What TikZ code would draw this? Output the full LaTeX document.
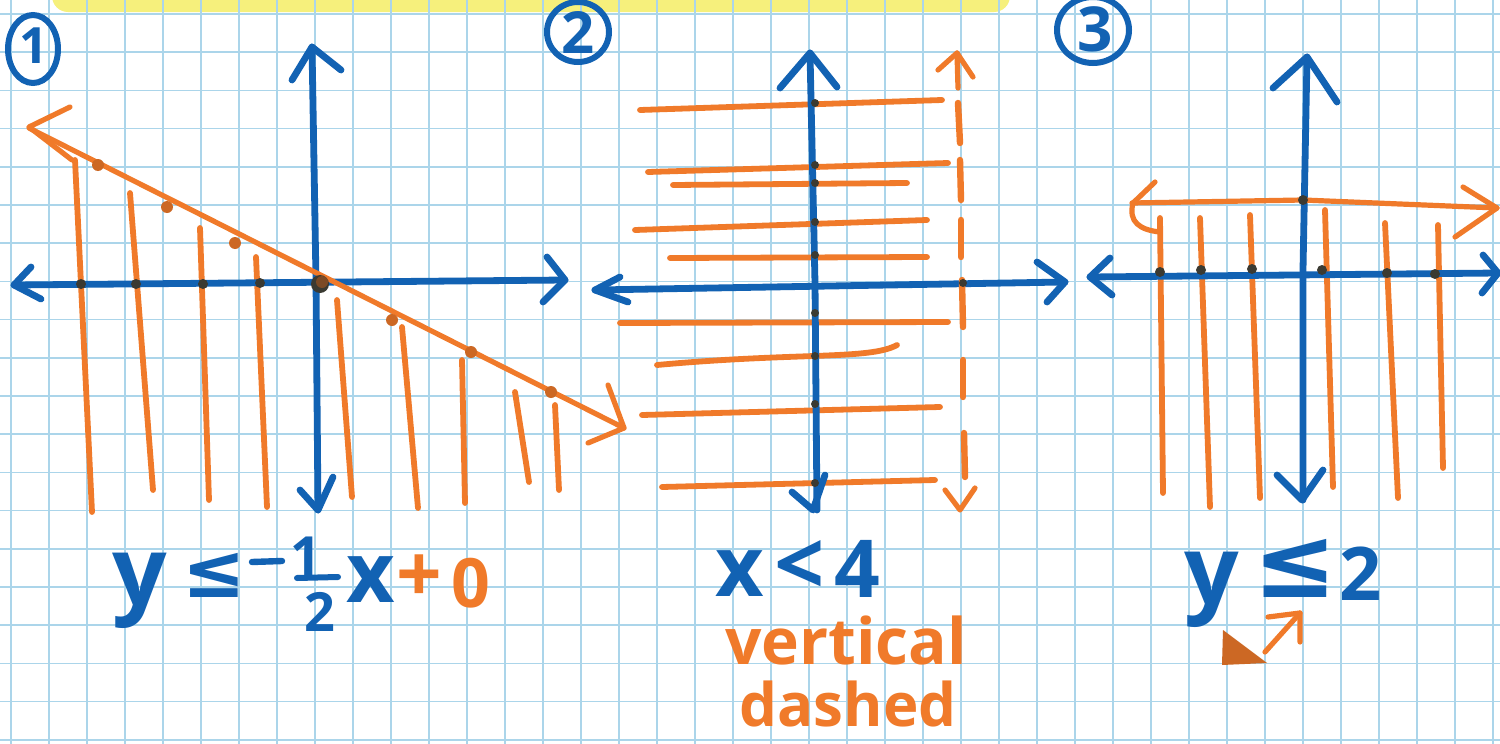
\documentclass[tikz,border=0pt]{standalone}
\usepackage{fontspec}
\setmainfont{Open Sans}
\newfontfamily\dejavu{DejaVu Sans}
\definecolor{inkblue}{HTML}{1262B3}
\definecolor{inkorange}{HTML}{F07A2A}
\definecolor{gridblue}{HTML}{ABD5EA}
\definecolor{dotdark}{HTML}{3B3A32}
\definecolor{hilite}{HTML}{F6F07C}
\tikzset{
  ax/.style={draw=inkblue, line width=3.4pt, line cap=round, line join=round},
  hatch/.style={draw=inkorange, line width=2.9pt, line cap=round},
  bound/.style={draw=inkorange, line width=2.6pt, line cap=round, line join=round},
  gridln/.style={draw=gridblue, line width=0.8pt},
  xdot/.style={fill=dotdark, draw=none},
  odot/.style={fill=inkorange!85!black, draw=none},
  lbl/.style={inner sep=0pt, outer sep=0pt, text=inkblue},
  olbl/.style={inner sep=0pt, outer sep=0pt, text=inkorange},
  fs/.style={font=\bfseries\fontsize{#1}{#1}\selectfont},
  dfs/.style={font=\dejavu\bfseries\fontsize{#1}{#1}\selectfont},
  numring/.style={draw=inkblue, line width=3pt}
}
\begin{document}
\begin{tikzpicture}[x=0.5pt,y=-0.5pt]
\clip (0,0) rectangle (1500,744);
\fill[white] (0,0) rectangle (1500,744);
% highlighter band
\fill[hilite, rounded corners=8pt] (52,-20) rectangle (1010,12);
% grid
\foreach \i in {0,...,39} { \draw[gridln] ({11+38*\i},0) -- ({11+38*\i},744); }
\foreach \j in {0,...,19} { \draw[gridln] (0,{14+38.2*\j}) -- (1500,{14+38.2*\j}); }

% ---------- numbered rings ----------
\draw[numring] (33,49) ellipse [x radius=25, y radius=34];
\node[lbl, fs=25] (n1) at (34,46) {1};
\draw[numring] (578,32) ellipse [x radius=31, y radius=30];
\node[lbl, fs=29] (n2) at (578,33) {2};
\draw[numring] (1093,30) ellipse [x radius=36, y radius=33];
\node[lbl, fs=31] (n3) at (1095,29) {3};

% ---------- graph 1 ----------
\foreach \a/\b/\c/\d in {75/160/92/512, 130/193/153/490, 200/228/209/500, 256/257/267/507,
  337/300/352/497, 402/327/418/508, 462/360/465/503, 515/392/529/482, 555/405/559/490}
  { \draw[hatch] (\a,\b) -- (\c,\d); }
\draw[ax] (14,285) -- (565,280);
\draw[ax] (31,267) -- (14,285) -- (41,299);
\draw[ax] (547,257) -- (565,280) -- (543,302);
\draw[ax] (312,47) -- (316,280) -- (318,510);
\draw[ax] (292,80) -- (312,47) -- (341,70);
\draw[ax] (300,490) -- (318,510) -- (333,477);
\draw[bound] (29,128) -- (624,428);
\draw[bound] (70,107) -- (29,127) -- (72,160);
\draw[bound] (608,385) -- (624,428) -- (588,443);
\foreach \p in {(98,165),(167,207),(235,243),(392,320),(471,352),(551,392)} { \fill[odot] \p circle (6); }
\foreach \p in {(81,284),(136,284),(203,284),(260,283)} { \fill[xdot] \p circle (5); }
\fill[dotdark] (320,284) circle (9);
\fill[inkorange!70!black, opacity=0.6] (322,282) circle (6);

% ---------- graph 2 ----------
\foreach \a/\b/\c/\d in {640/110/942/100, 648/172/948/163, 673/185/907/183, 635/230/927/220,
  670/258/927/257, 620/323/948/322, 642/415/940/407, 662/487/935/480}
  { \draw[hatch] (\a,\b) -- (\c,\d); }
\draw[hatch] (657,365) .. controls (800,352) and (870,360) .. (897,345);
\draw[ax] (595,290) -- (1065,282);
\draw[ax] (620,277) -- (595,290) -- (628,302);
\draw[ax] (1037,262) -- (1065,282) -- (1047,302);
\draw[ax] (810,53) -- (815,283) -- (817,510);
\draw[ax] (780,88) -- (810,53) -- (837,87);
\draw[ax] (792,492) -- (813,510) -- (825,475);
\foreach \yy in {103,165,183,222,255,313,356,404,483} { \fill[xdot] (815,\yy) circle (4); }
\draw[hatch, line width=3.2pt] (958,103) -- (960,143);
\draw[hatch, line width=3.2pt] (960,160) -- (961,200);
\draw[hatch, line width=3.2pt] (961,220) -- (961,257);
\draw[hatch, line width=3.2pt] (962,280) -- (963,327);
\draw[hatch, line width=3.2pt] (963,360) -- (963,397);
\draw[hatch, line width=3.2pt] (964,433) -- (965,477);
\draw[bound] (957,53) -- (958,88);
\draw[bound] (938,70) -- (957,53) -- (973,77);
\draw[bound] (945,490) -- (960,510) -- (975,488);
\fill[xdot] (963,283) circle (4);

% ---------- graph 3 ----------
\foreach \a/\b/\c/\d in {1160/218/1163/493, 1200/218/1210/507, 1250/215/1260/498,
  1325/210/1333/487, 1385/223/1398/498, 1438/225/1443/468}
  { \draw[hatch] (\a,\b) -- (\c,\d); }
\draw[ax] (1090,277) -- (1498,273);
\draw[ax] (1110,258) -- (1090,277) -- (1112,295);
\draw[ax] (1483,255) -- (1498,273) -- (1482,293);
\draw[ax] (1307,57) -- (1303,270) -- (1303,500);
\draw[ax] (1273,88) -- (1307,57) -- (1337,102);
\draw[ax] (1277,475) -- (1302,500) -- (1323,470);
\draw[bound] (1132,203) -- (1303,200) -- (1497,208);
\draw[bound] (1155,182) -- (1133,203) .. controls (1128,222) and (1140,230) .. (1160,232);
\draw[bound] (1463,187) -- (1497,208) -- (1455,237);
\foreach \p in {(1160,272),(1201,270),(1252,269),(1322,270),(1387,273),(1435,274),(1303,200)} { \fill[xdot] \p circle (5); }
\fill[inkorange!85!black] (1223,630) -- (1222,665) -- (1267,663) -- cycle;
\draw[bound] (1265,652) -- (1300,613);
\draw[bound] (1268,617) -- (1300,613) -- (1300,642);

% ---------- labels ----------
\node[lbl, fs=48] (e1y) at (140,591) {y};
\node[lbl, dfs=38] (e1le) at (214,575) {≤};
\draw[inkblue, line width=3.2pt, line cap=round] (252,562) -- (282,561);
\node[lbl, fs=27] (e1num) at (306,556) {1};
\draw[inkblue, line width=3pt, line cap=round] (297,578) -- (338,577);
\node[lbl, fs=27] (e1den) at (320,612) {2};
\node[lbl, fs=42] (e1x) at (371,580) {x};
\node[olbl, fs=40] (e1pl) at (419,579) {+};
\node[olbl, fs=34] (e1z) at (471,583) {0};

\node[lbl, fs=42] (e2x) at (740,574) {x};
\node[lbl, fs=44] (e2lt) at (800,568) {<};
\node[lbl, fs=40] (e2four) at (857,569) {4};
\node[olbl, fs=32] (w1) at (846,640) {vertical};
\node[olbl, fs=30] (w2) at (848,704) {dashed};

\node[lbl, fs=48] (e3y) at (1212,590) {y};
\node[lbl, dfs=50] (e3le) at (1295,568) {≤};
\node[lbl, fs=37] (e3two) at (1361,574) {2};
\end{tikzpicture}
\end{document}
